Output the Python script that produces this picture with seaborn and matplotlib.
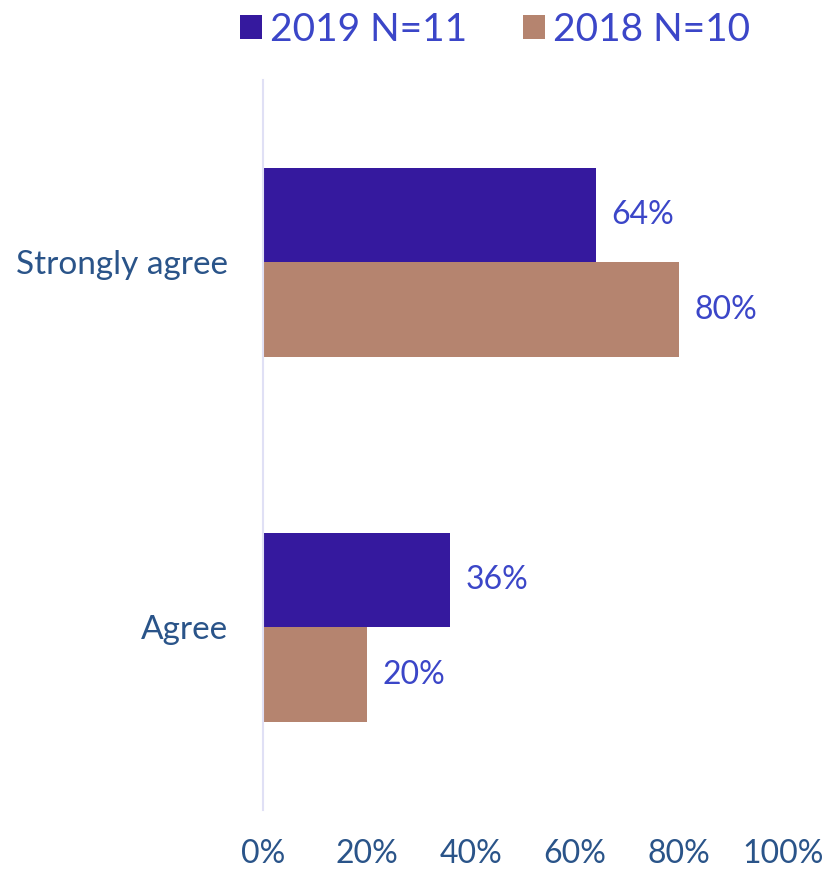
import matplotlib
matplotlib.use("Agg")
import matplotlib.pyplot as plt
import seaborn as sns
import pandas as pd
from matplotlib.patches import Patch

categories = ["Strongly agree", "Agree"]
series_names = ["2019 N=11", "2018 N=10"]
values_2019 = [64, 36]
values_2018 = [80, 20]
x_ticks = [0, 20, 40, 60, 80, 100]
x_tick_labels = ["0%", "20%", "40%", "60%", "80%", "100%"]

colors = ["#35199E", "#B5846F"]
label_blue = "#3B46C8"
tick_blue = "#2A5489"

df = pd.DataFrame({
    "category": categories * 2,
    "series": [series_names[0]] * 2 + [series_names[1]] * 2,
    "value": values_2019 + values_2018,
})

sns.set_theme(style="white")
plt.rcParams["font.family"] = ["Lato", "DejaVu Sans"]

fig = plt.figure(figsize=(8.25, 8.73), dpi=100)
ax = fig.add_axes([0.3188, 0.0722, 0.6303, 0.8362])

sns.barplot(data=df, y="category", x="value", hue="series", order=categories,
            hue_order=series_names, palette=colors, width=0.52, orient="h",
            ax=ax, legend=False, saturation=1, linewidth=0)

for cont in ax.containers:
    ax.bar_label(cont, labels=[f"{int(round(v))}%" for v in cont.datavalues],
                 padding=11, fontsize=23, color=label_blue)

ax.set_xlim(0, 100)
ax.set_ylim(1.5, -0.5)
ax.set_xticks(x_ticks)
ax.set_xticklabels(x_tick_labels)
ax.set_xlabel("")
ax.set_ylabel("")
ax.tick_params(axis="x", labelsize=23, labelcolor=tick_blue, length=0, pad=21)
ax.tick_params(axis="y", labelsize=24, labelcolor=tick_blue, length=0, pad=25)
for s in ["top", "right", "bottom"]:
    ax.spines[s].set_visible(False)
ax.spines["left"].set_color("#E0E0F5")
ax.spines["left"].set_linewidth(1.5)

handles = [Patch(facecolor=c, edgecolor="none") for c in colors]
fig.legend(handles, series_names, loc="center", bbox_to_anchor=(0.6, 0.966),
           ncol=2, frameon=False, fontsize=28, labelcolor=label_blue,
           handlelength=0.57, handleheight=0.57, handletextpad=0.2,
           columnspacing=1.45)

fig.savefig("out.png", dpi=100)
